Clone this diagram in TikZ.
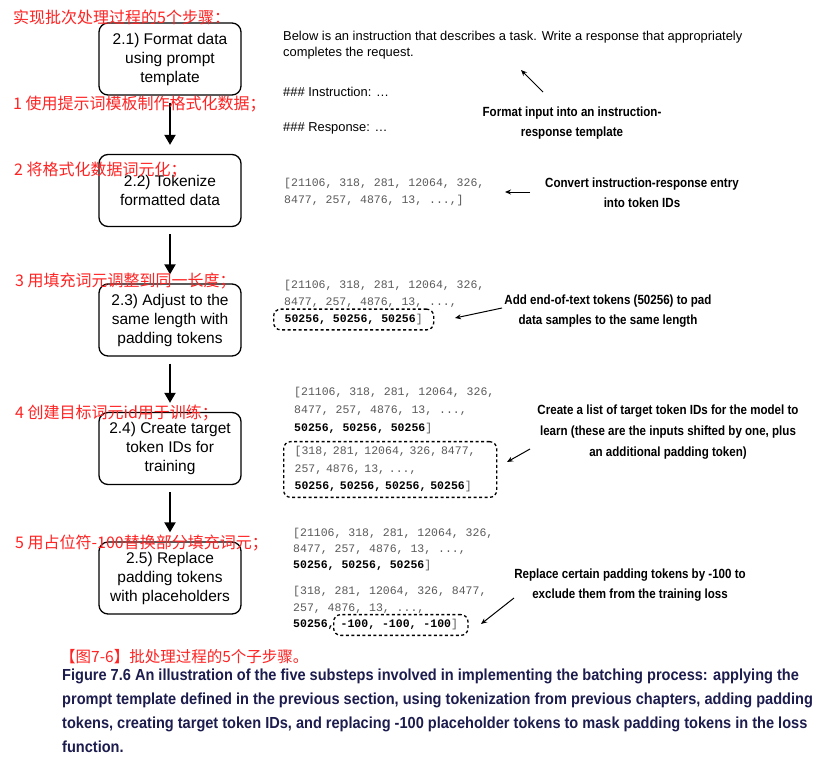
\documentclass[tikz,border=0pt]{standalone}
\usepackage{fontspec}
\setmainfont{Liberation Sans}
\newfontfamily\cjk{Noto Sans CJK SC}
\newfontfamily\monof{Liberation Mono}
\newfontfamily\condb[FakeStretch=0.87]{Liberation Sans}
\newfontfamily\captf[FakeStretch=0.91]{Liberation Sans}
\usetikzlibrary{arrows.meta}
\definecolor{redlab}{RGB}{255,35,35}
\definecolor{navy}{RGB}{28,28,78}
\definecolor{tokgray}{RGB}{90,90,90}
\tikzset{
  stepbox/.style={draw, line width=1.3pt, rounded corners=9pt, minimum width=142pt,
    minimum height=72pt, align=center, fill=white, font=\fontsize{15.5}{19}\selectfont},
  redtxt/.style={anchor=west, text=redlab, inner sep=0pt, font=\cjk\fontsize{16}{18}\selectfont},
  flow/.style={line width=2pt, -{Triangle[length=10pt,width=11pt]}},
  pointer/.style={line width=1pt, -{Stealth[length=6pt,width=5pt]}},
  notelab/.style={align=center, inner sep=0pt, font=\condb\bfseries\fontsize{13.3}{20}\selectfont},
  tmpl/.style={anchor=west, align=left, inner sep=0pt, font=\fontsize{12.9}{16}\selectfont},
  tok/.style={anchor=west, align=left, inner sep=0pt, text=tokgray, font=\monof\fontsize{11.5}{17}\selectfont},
  dbox/.style={draw, dash pattern=on 3pt off 2.5pt, line width=1.3pt, rounded corners=7pt},
  capt/.style={anchor=west, inner sep=0pt, text=navy, font=\captf\bfseries\fontsize{16}{18}\selectfont}
}
\newcommand{\pd}[1]{\textcolor{black}{\bfseries #1}}
\begin{document}
\begin{tikzpicture}[x=1pt,y=-1pt]
\fill[white] (0,0) rectangle (836,761);
\useasboundingbox (0,0) rectangle (836,761);

% steps
\node[stepbox] (s1) at (170,59) {2.1) Format data\\using prompt\\template};
\node[stepbox] (s2) at (170,190.5) {2.2) Tokenize\\formatted data};
\node[stepbox] (s3) at (170,320) {2.3) Adjust to the\\same length with\\padding tokens};
\node[stepbox] (s4) at (170,448.5) {2.4) Create target\\token IDs for\\training};
\node[stepbox] (s5) at (170,578) {2.5) Replace\\padding tokens\\with placeholders};
\foreach \a/\b in {s1/s2,s2/s3,s3/s4,s4/s5}
  \draw[flow] ([yshift=-7pt]\a.south) -- ([yshift=9pt]\b.north);

% template
\node[tmpl] (tp) at (283,45) {Below is an instruction that describes a task. Write a response that appropriately\\completes the request.};
\node[tmpl] (ti) at (283,92) {\#\#\# Instruction: …};
\node[tmpl] (tr) at (283,128) {\#\#\# Response: …};
\node[notelab] (n1) at (572,123) {Format input into an instruction-\\response template};
\coordinate (p1s) at (543,92); \coordinate (p1e) at (521,70);
\draw[pointer] (p1s) -- (p1e);

% tokenize
\node[tok] (t2) at (284,192) {[21106, 318, 281, 12064, 326,\\8477, 257, 4876, 13, ...,]};
\node[notelab] (n2) at (642,193) {Convert instruction-response entry\\into token IDs};
\coordinate (p2s) at (530,192); \coordinate (p2e) at (505,192);
\draw[pointer] (p2s) -- (p2e);

% padding
\node[tok, font=\monof\fontsize{11.5}{16.5}\selectfont] (t3) at (284,294) {[21106, 318, 281, 12064, 326,\\8477, 257, 4876, 13, ...,};
\node[tok, dbox, inner xsep=11pt, inner ysep=5pt] (t3b) at (273,319.5) {\pd{50256, 50256, 50256}]};
\node[notelab] (n3) at (608,311) {Add end-of-text tokens (50256) to pad\\data samples to the same length};
\coordinate (p3s) at (502,308); \coordinate (p3e) at (455,318);
\draw[pointer] (p3s) -- (p3e);

% targets
\node[tok, font=\monof\fontsize{11.5}{18}\selectfont] (t4) at (294,411) {[21106, 318, 281, 12064, 326,\\8477, 257, 4876, 13, ...,\\\pd{50256, 50256, 50256}]};
\node[tok, dbox, font=\monof\fontsize{11.5}{17.5}\selectfont, inner xsep=11pt, inner ysep=5pt, text width=191pt] (t4b) at (283,469.5) {[318, 281, 12064, 326, 8477,\\257, 4876, 13, ...,\\\pd{50256, 50256, 50256, 50256}]};
\node[notelab, font=\condb\bfseries\fontsize{13.3}{21}\selectfont] (n4) at (668,432) {Create a list of target token IDs for the model to\\learn (these are the inputs shifted by one, plus\\an additional padding token)};
\coordinate (p4s) at (530,449); \coordinate (p4e) at (507,462);
\draw[pointer] (p4s) -- (p4e);

% replace
\node[tok, font=\monof\fontsize{11.5}{16}\selectfont] (t5) at (293,550) {[21106, 318, 281, 12064, 326,\\8477, 257, 4876, 13, ...,\\\pd{50256, 50256, 50256}]};
\node[tok, font=\monof\fontsize{11.5}{16.5}\selectfont] (t5b) at (293,600) {[318, 281, 12064, 326, 8477,\\257, 4876, 13, ...,};
\node[tok, text=black, font=\monof\bfseries\fontsize{11.5}{16}\selectfont] (t5c) at (293,625) {50256,};
\node[tok, dbox, inner xsep=7pt, inner ysep=5pt] (t5d) at (333,625) {\pd{-100, -100, -100}]\hspace{3pt}};
\node[notelab] (n5) at (630,585) {Replace certain padding tokens by -100 to\\exclude them from the training loss};
\coordinate (p5s) at (514,598); \coordinate (p5e) at (481,624);
\draw[pointer] (p5s) -- (p5e);

% red annotations
\node[redtxt] (r0) at (13,17) {实现批次处理过程的5个步骤：};
\node[redtxt] (r1) at (13,104) {1 使用提示词模板制作格式化数据；};
\node[redtxt] (r2) at (14,170) {2 将格式化数据词元化；};
\node[redtxt] (r3) at (15,281) {3 用填充词元调整到同一长度；};
\node[redtxt] (r4) at (15,413) {4 创建目标词元id用于训练；};
\node[redtxt] (r5) at (15,543) {5 用占位符-100替换部分填充词元；};

% caption
\node[redtxt, font=\cjk\fontsize{15.5}{18}\selectfont] (c0) at (60,657) {【图7-6】批处理过程的5个子步骤。};
\node[capt] (c1) at (62,676) {Figure 7.6 An illustration of the five substeps involved in implementing the batching process: applying the};
\node[capt] (c2) at (62,700) {prompt template defined in the previous section, using tokenization from previous chapters, adding padding};
\node[capt] (c3) at (62,724) {tokens, creating target token IDs, and replacing -100 placeholder tokens to mask padding tokens in the loss};
\node[capt] (c4) at (62,747) {function.};
\end{tikzpicture}
\end{document}
